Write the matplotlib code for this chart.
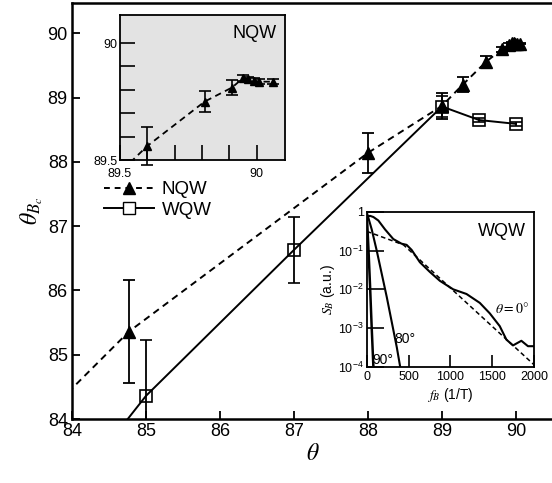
import numpy as np
import matplotlib
matplotlib.use('Agg')
from matplotlib import pyplot as plt

plt.rcParams['font.family'] = ['Liberation Sans', 'DejaVu Sans']
plt.rcParams['mathtext.fontset'] = 'stix'

# main panel: NQW (dashed, filled triangles)
nqw_theta = [84.77, 88.0, 89.0, 89.28, 89.6, 89.81, 89.91, 89.95, 89.97, 89.99, 90.01, 90.06]
nqw_thetab = [85.36, 88.14, 88.87, 89.2, 89.56, 89.75, 89.81, 89.85, 89.845, 89.84, 89.835, 89.835]
nqw_err = [0.8, 0.31, 0.2, 0.12, 0.08, 0.043, 0.033, 0.012, 0.01, 0.01, 0.01, 0.01]
nqw_start = (83.5, 83.9)  # where the dashed line comes in from below the frame

# main panel: WQW (solid, open squares)
wqw_theta = [85.0, 87.0, 89.0, 89.5, 90.0]
wqw_thetab = [84.36, 86.63, 88.86, 88.65, 88.59]
wqw_err = [0.87, 0.51, 0.16, 0.03, 0.03]
wqw_start = (84.5, 83.63)

# lower inset: S_B spectra, x in 1/T, values as log10
fb_0 = [0, 40, 80, 139, 219, 318, 417, 477, 537, 636, 755, 875, 1034, 1193, 1352,
        1471, 1590, 1670, 1749, 1849, 1928, 2000]
logs_0 = [-0.12, -0.1, -0.13, -0.22, -0.45, -0.7, -0.82, -0.85, -0.98, -1.3, -1.55,
          -1.78, -2.0, -2.12, -2.35, -2.62, -2.95, -3.3, -3.45, -3.33, -3.47, -3.47]
fb_fit = [0, 440, 2000]
logs_fit = [-0.5, -0.85, -3.95]
fb_80 = [0, 60, 120, 180, 240, 300, 360, 400]
logs_80 = [0.0, -0.45, -1.0, -1.6, -2.2, -2.85, -3.5, -4.0]
fb_90 = [0, 20, 40, 60, 80]
logs_90 = [0.0, -0.9, -1.9, -3.0, -4.0]


def main():
    fig = plt.figure(figsize=(5.52, 4.83), dpi=100)
    ax = fig.add_axes([0.1304, 0.1325, 0.8714, 0.8613])

    ax.plot([nqw_start[0]] + nqw_theta, [nqw_start[1]] + nqw_thetab, 'k--', lw=1.4, dashes=(3.5, 2.5))
    ax.plot([wqw_start[0]] + wqw_theta, [wqw_start[1]] + wqw_thetab, 'k-', lw=1.4)
    ax.errorbar(nqw_theta, nqw_thetab, yerr=nqw_err, fmt='^', color='k', ms=8,
                ecolor='k', elinewidth=1.3, capsize=4.5, capthick=1.3)
    ax.errorbar(wqw_theta, wqw_thetab, yerr=wqw_err, fmt='s', color='k', mfc='none',
                mew=1.2, ms=8, ecolor='k', elinewidth=1.3, capsize=4.5, capthick=1.3)

    ax.set_xlim(84, 90.5)
    ax.set_ylim(84, 90.47)
    ax.set_xticks(range(84, 91))
    ax.set_yticks(range(84, 91))
    ax.tick_params(direction='in', length=6, width=1.3, labelsize=13, pad=3)
    for s in ax.spines.values():
        s.set_linewidth(1.8)
    ax.spines['right'].set_visible(False)
    ax.set_xlabel(r'$\theta$', fontsize=17, labelpad=2)
    ax.set_ylabel(r'$\theta_{B_c}$', fontsize=17, labelpad=2)

    # legend from proxy handles
    h1, = ax.plot([], [], 'k--', marker='^', ms=8, lw=1.4, dashes=(3, 2.5))
    h2, = ax.plot([], [], 'k-', marker='s', mfc='white', ms=8, lw=1.4)
    ax.legend([h1, h2], ['NQW', 'WQW'], loc='upper left', bbox_to_anchor=(0.05, 0.59),
              frameon=False, fontsize=13.5, handlelength=2.7, handletextpad=0.4,
              labelspacing=0.2, borderaxespad=0)

    # upper inset: zoom near 90 deg
    ax1 = fig.add_axes([0.2174, 0.6687, 0.299, 0.3002])
    ax1.set_facecolor('#e3e3e3')
    ax1.plot([nqw_theta[3]] + nqw_theta[4:], [nqw_thetab[3]] + nqw_thetab[4:], 'k--',
             lw=1.3, dashes=(3.5, 2.5))
    ax1.errorbar(nqw_theta[4:], nqw_thetab[4:], yerr=nqw_err[4:], fmt='^', color='k',
                 ms=6, ecolor='k', elinewidth=1.2, capsize=4, capthick=1.2, clip_on=False)
    ax1.set_xlim(89.5, 90.104)
    ax1.set_ylim(89.5, 90.12)
    ax1.set_xticks(np.arange(89.5, 90.05, 0.1))
    ax1.set_yticks(np.arange(89.5, 90.05, 0.1))
    ax1.set_xticklabels(['89.5', '', '', '', '', '90'])
    ax1.set_yticklabels(['89.5', '', '', '', '', '90'])
    ax1.tick_params(direction='in', length=11, width=1.2, labelsize=9, pad=2)
    ax1.tick_params(axis='x', pad=6)
    for s in ax1.spines.values():
        s.set_linewidth(1.3)
    ax1.text(0.95, 0.93, 'NQW', transform=ax1.transAxes, ha='right', va='top', fontsize=13)

    # lower inset: spectra
    ax2 = fig.add_axes([0.6643, 0.2408, 0.3031, 0.3203])
    ax2.plot(fb_fit, 10 ** np.array(logs_fit), 'k--', lw=1.1, dashes=(3, 2))
    ax2.plot(fb_0, 10 ** np.array(logs_0), 'k-', lw=1.5)
    ax2.plot(fb_80, 10 ** np.array(logs_80), 'k-', lw=1.5)
    ax2.plot(fb_90, 10 ** np.array(logs_90), 'k-', lw=1.8)
    ax2.set_yscale('log')
    ax2.set_xlim(0, 2000)
    ax2.set_ylim(1e-4, 1)
    ax2.set_xticks([0, 500, 1000, 1500, 2000])
    ax2.set_yticks([1e-4, 1e-3, 1e-2, 1e-1, 1])
    ax2.set_yticklabels([r'$\mathdefault{10^{-4}}$', r'$\mathdefault{10^{-3}}$',
                         r'$\mathdefault{10^{-2}}$', r'$\mathdefault{10^{-1}}$', '1'])
    ax2.minorticks_off()
    ax2.tick_params(axis='y', direction='in', length=12, width=1.2, labelsize=9, pad=2)
    ax2.tick_params(axis='x', direction='in', length=9, width=1.2, labelsize=9, pad=3)
    for s in ax2.spines.values():
        s.set_linewidth(1.3)
    ax2.set_xlabel(r'$f_B$ (1/T)', fontsize=10, labelpad=2)
    ax2.set_ylabel(r'$S_B$ (a.u.)', fontsize=10, labelpad=1)
    ax2.text(0.95, 0.93, 'WQW', transform=ax2.transAxes, ha='right', va='top', fontsize=13)
    ax2.text(1530, 10 ** -2.6, r'$\theta = 0°$', fontsize=10)
    ax2.text(330, 10 ** -3.4, '80°', fontsize=10)
    ax2.text(70, 10 ** -3.93, '90°', fontsize=10)

    fig.savefig('out.png', dpi=100)


if __name__ == '__main__': main()
